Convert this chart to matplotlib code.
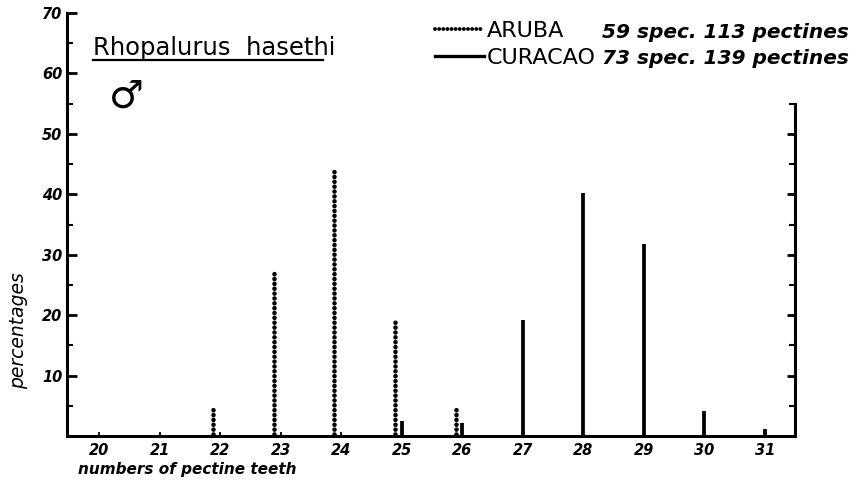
import numpy as np
import matplotlib
matplotlib.use("Agg")
import matplotlib.pyplot as plt
from matplotlib.lines import Line2D

# pectine teeth counts and percentages
aruba_teeth = [22, 23, 24, 25, 26]
aruba_pct = [4.5, 27.4, 44.2, 19.6, 4.8]

curacao_teeth = [25, 26, 27, 28, 29, 30, 31]
curacao_pct = [2.5, 2.2, 19.2, 40.2, 31.8, 4.1, 1.1]

xticks = list(range(20, 32))
yticks = [10, 20, 30, 40, 50, 60, 70]

W, H = 857, 491
fig = plt.figure(figsize=(W/100, H/100), dpi=100)
ax = fig.add_axes([67/W, 55/H, (795-67)/W, (436-13)/H])

dotted = (0, (0.01, 1.05))

# aruba = dotted, shifted a little to the left of the tick
for t, v in zip(aruba_teeth, aruba_pct):
    ax.plot([t-0.11, t-0.11], [0.3, v], color='k', lw=3.3,
            ls=dotted, dash_capstyle='round')
# curacao = solid
for t, v in zip(curacao_teeth, curacao_pct):
    ax.plot([t, t], [0, v], color='k', lw=2.7, solid_capstyle='butt')

ax.set_xlim(19.47, 31.5)
ax.set_ylim(0, 70)

for s in ['top', 'right']:
    ax.spines[s].set_visible(False)
ax.spines['left'].set_linewidth(2.2)
ax.spines['bottom'].set_linewidth(2.2)

ax.set_xticks(xticks)
ax.set_xticklabels([str(t) for t in xticks], fontstyle='italic', fontweight='bold', fontsize=10.5)
ax.set_yticks(yticks)
ax.set_yticklabels([str(t) for t in yticks], fontstyle='italic', fontweight='bold', fontsize=10.5)
ax.set_yticks(list(range(5, 70, 10)), minor=True)
ax.tick_params(axis='x', direction='in', length=3, width=1.3, pad=5)
ax.tick_params(axis='y', which='major', direction='in', length=7, width=2, pad=3.5)
ax.tick_params(axis='y', which='minor', direction='in', length=4, width=1.5)

# right-hand scale only goes up to 55
ax2 = ax.twinx()
ax2.set_ylim(0, 70)
for s in ['top', 'left', 'bottom']:
    ax2.spines[s].set_visible(False)
ax2.spines['right'].set_bounds(0, 55)
ax2.spines['right'].set_linewidth(2.2)
ax2.set_yticks([10, 20, 30, 40, 50])
ax2.set_yticklabels([])
ax2.set_yticks([5, 15, 25, 35, 45, 55], minor=True)
ax2.tick_params(axis='y', which='major', direction='in', length=6, width=2)
ax2.tick_params(axis='y', which='minor', direction='in', length=4, width=1.5)

ax.set_ylabel('percentages', fontstyle='italic', fontsize=13.5)
ax.yaxis.set_label_coords(-0.054, 0.248)
ax.set_xlabel('numbers of pectine teeth', fontstyle='italic', fontweight='bold', fontsize=11)
ax.xaxis.set_label_coords(0.165, -0.062)

# title block
fig.text(93/W, 1-55/H, 'Rhopalurus  hasethi', fontsize=17.5,
         va='baseline', ha='left')
fig.add_artist(Line2D([93/W, 323/W], [1-60/H, 1-60/H], color='k', lw=1.6,
                      transform=fig.transFigure))
fig.text(126/W, 1-97/H, '\u2642', fontsize=28, ha='center', va='center')

# legend
handles = [Line2D([], [], color='k', lw=2.8, ls=dotted, dash_capstyle='round'),
           Line2D([], [], color='k', lw=2.4)]
fig.legend(handles, ['ARUBA', 'CURACAO'], loc='upper left',
           bbox_to_anchor=(435/W, 1-21/H), frameon=False, fontsize=16,
           handlelength=2.2, handletextpad=0.15, labelspacing=0.32,
           borderpad=0, borderaxespad=0)
fig.text(602/W, 1-32/H, '59 spec. 113 pectines', fontstyle='italic', fontweight='bold',
         fontsize=14.5, va='center', ha='left')
fig.text(602/W, 1-58/H, '73 spec. 139 pectines', fontstyle='italic', fontweight='bold',
         fontsize=14.5, va='center', ha='left')

fig.savefig('out.png', dpi=100)
